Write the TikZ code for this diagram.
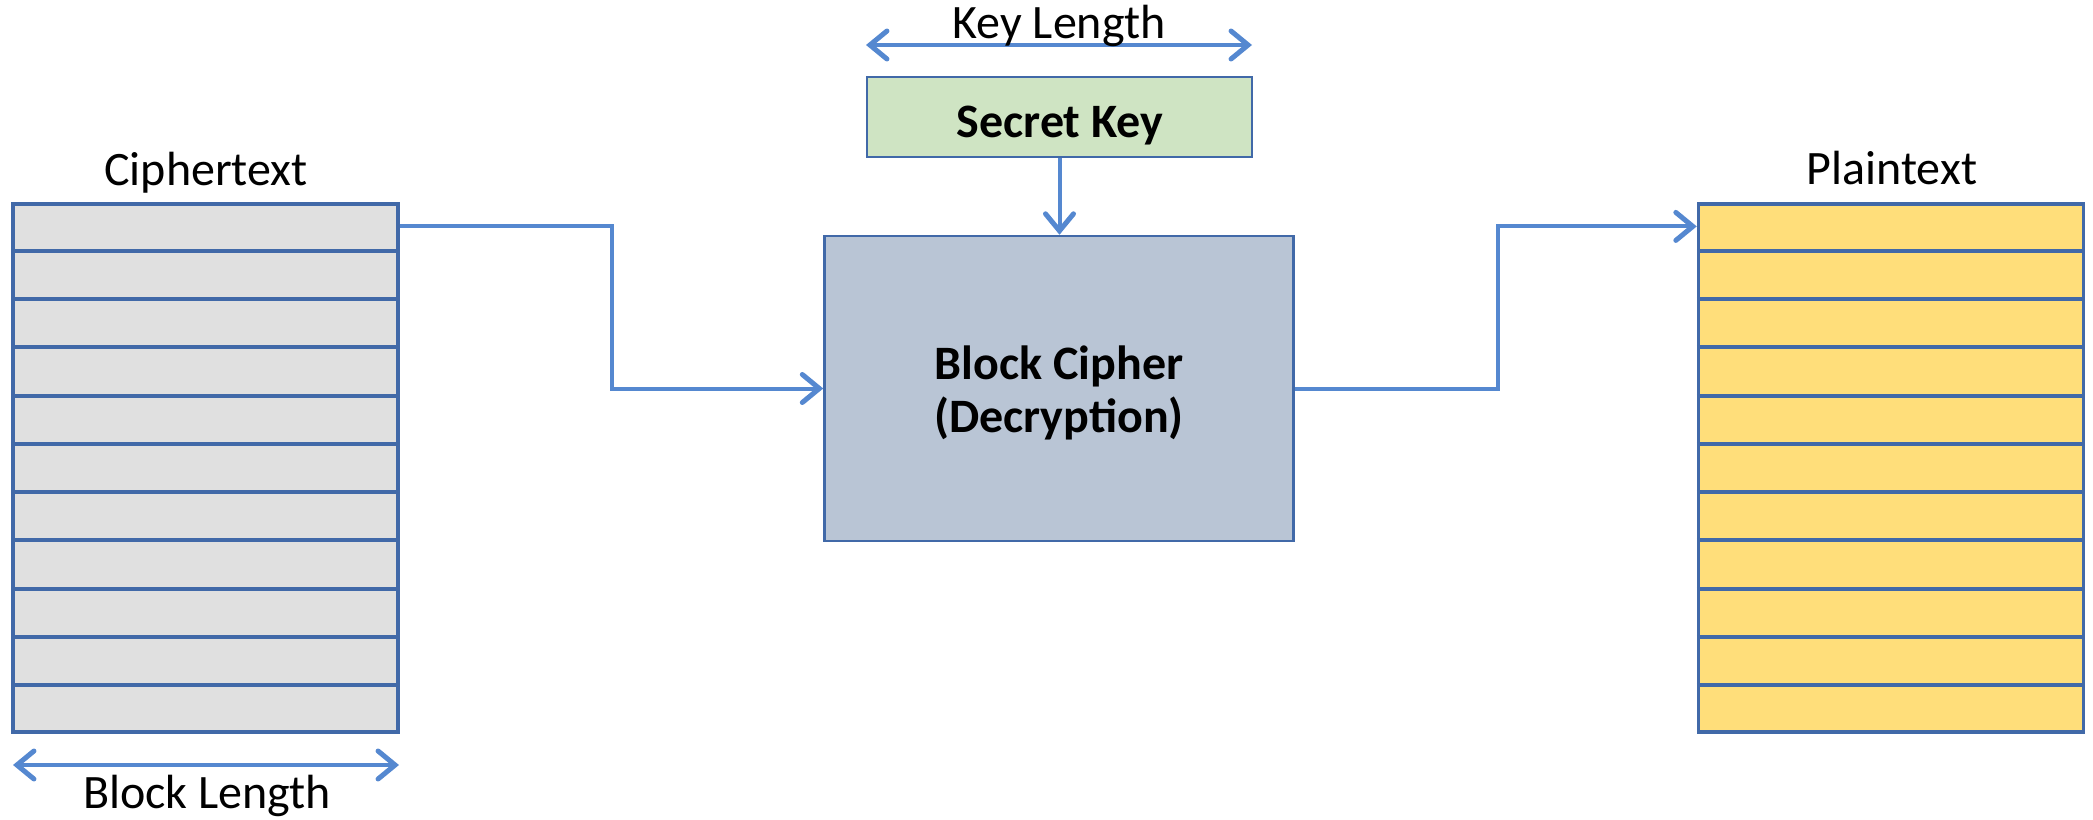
\documentclass[tikz,border=0pt]{standalone}
\usepackage{fontspec}
\setmainfont{Carlito}
\usetikzlibrary{arrows.meta,calc}

\definecolor{edgeblue}{HTML}{4169A8}
\definecolor{linkblue}{HTML}{5588D0}
\definecolor{cipherfill}{HTML}{E0E0E0}
\definecolor{plainfill}{HTML}{FFDE7A}
\definecolor{keyfill}{HTML}{CFE4C3}
\definecolor{corefill}{HTML}{B9C5D5}

\tikzset{
  label text/.style={font=\fontsize{48}{53}\selectfont, anchor=base, inner sep=0pt},
  stack/.style={draw=edgeblue, line width=3.5pt, minimum width=385pt, minimum height=528pt, inner sep=0pt},
  rowline/.style={draw=edgeblue, line width=4pt},
  box/.style={draw=edgeblue, line width=2.5pt, inner sep=0pt, align=center,
              font=\bfseries\fontsize{48}{53}\selectfont},
  barb/.tip={Straight Barb[length=17pt,width=28pt,line width=5pt,line cap=round]},
  link/.style={draw=linkblue, line width=4pt, -barb},
  span/.style={draw=linkblue, line width=4pt, barb-barb}
}

\begin{document}
\begin{tikzpicture}[x=1pt,y=-1pt]
\useasboundingbox (0,0) rectangle (2093,819);

% text stacks
\node[stack, fill=cipherfill] (ct) at (205.5,468) {};
\node[stack, fill=plainfill] (pt) at (1891,468) {};
\foreach \i in {1,...,10} {
  \draw[rowline] ($(ct.north west)!\i/11!(ct.south west)$) -- ($(ct.north east)!\i/11!(ct.south east)$);
  \draw[rowline] ($(pt.north west)!\i/11!(pt.south west)$) -- ($(pt.north east)!\i/11!(pt.south east)$);
}
\node[label text] (ctlabel) at (206,185) {Ciphertext};
\node[label text] (ptlabel) at (1892,184) {Plaintext};

% key and cipher boxes
\node[box, fill=keyfill, minimum width=385pt, minimum height=80pt] (key) at (1059.5,117) {};
\node[box, fill=corefill, minimum width=469pt, minimum height=305pt] (core) at (1059,388.5) {};
\node[box, draw=none, anchor=base] (keytext) at (1060,137) {Secret Key};
\node[box, draw=none, anchor=base] (coretext1) at (1059,379) {Block Cipher};
\node[box, draw=none, anchor=base] (coretext2) at (1059,432) {(Decryption)};

% length markers
\coordinate (kl1) at (866,45);
\coordinate (kl2) at (1252,45);
\draw[span] (kl1) -- (kl2);
\node[label text] (kllabel) at (1059,38) {Key Length};

\coordinate (bl1) at (13,765);
\coordinate (bl2) at (399,765);
\draw[span] (bl1) -- (bl2);
\node[label text] (bllabel) at (207,808) {Block Length};

% data flow
\coordinate (ctout) at ($(ct.north east)!0.5/11!(ct.south east)$);
\coordinate (ptin) at ($(pt.north west)!0.5/11!(pt.south west)$);
\draw[link] (ctout) -- ++(212,0) |- (core.west);
\draw[link] (core.east) -- ++(203,0) |- (ptin);
\draw[link] (key.south) -- (key.south |- core.north);
\end{tikzpicture}
\end{document}
